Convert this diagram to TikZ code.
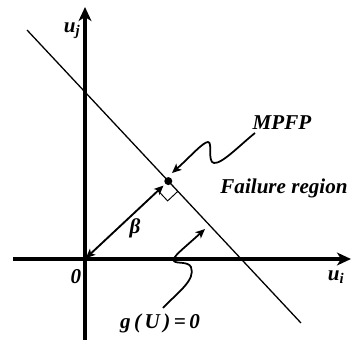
\documentclass[tikz,border=0pt]{standalone}
\usepackage{fontspec}
\setmainfont{Liberation Serif}
\usetikzlibrary{arrows.meta,calc}

\begin{document}
\begin{tikzpicture}[x=0.03cm, y=-0.03cm,
  axis/.style={line width=2.6pt, -{Stealth[length=12pt,width=11pt,inset=3.5pt]}},
  lbl/.style={font=\fontsize{18}{21}\selectfont\bfseries\itshape, inner sep=0pt},
  pointer/.style={line width=1.5pt, -{Stealth[length=8pt,width=7pt,inset=2pt]}}
]
\useasboundingbox (0,0) rectangle (352,340);
\coordinate (O) at (85,259);
\coordinate (xs) at (13,259);
\coordinate (xe) at (351,259);
\coordinate (ys) at (85,340);
\coordinate (ye) at (85,7);
\coordinate (A) at (27,30);
\coordinate (B) at (301,323);
\coordinate (F) at ($(A)!(O)!(B)$);

\draw[axis] (xs) -- (xe);
\draw[axis] (ys) -- (ye);
\draw[line width=1.1pt] (A) -- (B);

\node[circle, fill, inner sep=0pt, minimum size=0.24cm] (mpfp) at (F) {};
\coordinate (r1) at ($(F)!0.42cm!(O)$);
\coordinate (r2) at ($(F)!0.42cm!(B)$);
\draw[line width=0.8pt] (r1) -- ($(r1)+(r2)-(F)$) -- (r2);
\draw[line width=1.6pt, {Stealth[length=8pt,width=7pt,inset=2pt]}-{Stealth[length=8pt,width=7pt,inset=2pt]}, shorten <=1pt, shorten >=2pt] (O) -- (mpfp);

\node[lbl] (uj) at (72,31) {u\textsubscript{j}};
\node[lbl] (ui) at (336,277) {u\textsubscript{i}};
\node[lbl] (zero) at (76,277) {0};
\node[lbl] (beta) at (135,228) {β};
\node[lbl] (mpfplbl) at (282,123) {MPFP};
\node[lbl] (fail) at (284,188) {Failure region};
\node[lbl] (glbl) at (160,323) {g\,(\,U\,)\,=\,0};

\coordinate (m0) at (255,133);
\coordinate (m1) at (172,173);
\draw[pointer] (m0) .. controls (240,145) and (222,164) .. (214,163)
  .. controls (207,162) and (213,142) .. (208,142)
  .. controls (203,142) and (190,157) .. (m1);
\coordinate (g0) at (163,308);
\coordinate (g1) at (205,229);
\draw[pointer] (g0) .. controls (178,292) and (196,280) .. (191,267)
  .. controls (188,261) and (176,264) .. (174,261)
  .. controls (172,257) and (182,250) .. (g1);
\end{tikzpicture}
\end{document}
